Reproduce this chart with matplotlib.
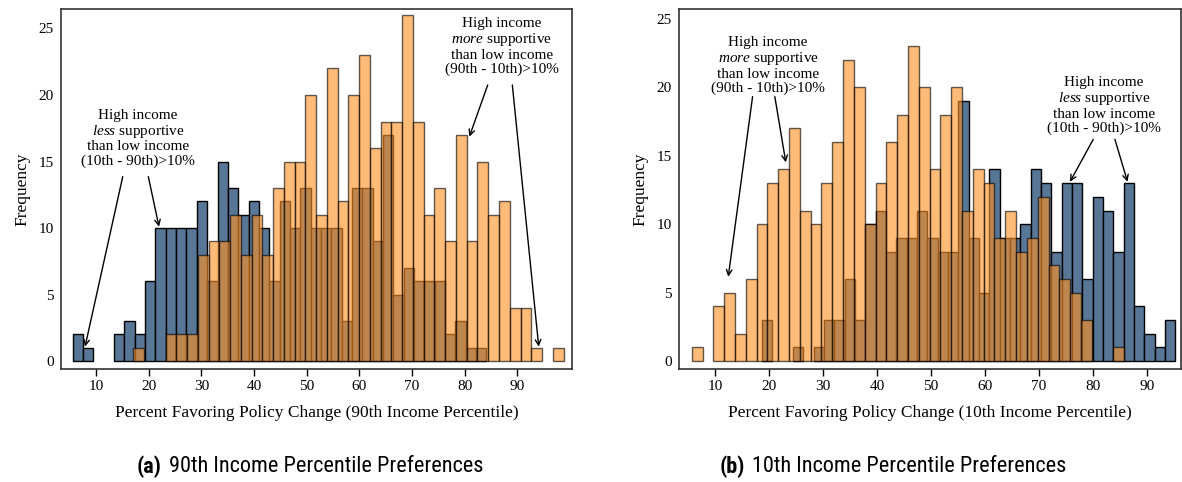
import numpy as np
import matplotlib.pyplot as plt

plt.rcParams['font.family'] = ['Liberation Serif', 'DejaVu Serif']
plt.rcParams['mathtext.fontset'] = 'custom'
plt.rcParams['mathtext.rm'] = 'Liberation Serif'
plt.rcParams['mathtext.it'] = 'Liberation Serif:italic'

# 40 equal-width bins per group; counts of policies per bin
# "less": high income less supportive than low income, "more": high income more supportive
left_less = [2, 1, 0, 0, 2, 3, 2, 6, 10, 10, 10, 10, 12, 6, 15, 13, 11, 12, 10, 6,
             12, 10, 13, 10, 10, 10, 3, 13, 13, 9, 17, 5, 7, 6, 6, 6, 2, 3, 1, 1]
left_more = [1, 0, 0, 2, 2, 2, 8, 9, 9, 11, 8, 11, 8, 13, 15, 15, 20, 11, 22, 12,
             20, 23, 16, 18, 18, 26, 18, 11, 13, 9, 17, 9, 15, 11, 12, 4, 4, 1, 0, 1]
right_less = [3, 0, 0, 1, 0, 1, 3, 3, 6, 3, 10, 11, 8, 9, 9, 11, 9, 8, 8, 19,
              9, 5, 14, 9, 9, 10, 14, 13, 8, 13, 13, 6, 12, 11, 8, 13, 4, 2, 1, 3]
right_more = [1, 0, 4, 5, 2, 6, 10, 13, 14, 17, 11, 10, 13, 16, 22, 20, 10, 13, 16, 18,
              23, 20, 14, 18, 20, 11, 14, 13, 9, 11, 8, 9, 12, 7, 6, 5, 3, 0, 0, 1]

# min / max of each group (bin range)
left_less_range = (5.57, 84.14)
left_more_range = (17.09, 98.78)
right_less_range = (18.73, 95.25)
right_more_range = (5.70, 85.76)

xticks = [10, 20, 30, 40, 50, 60, 70, 80, 90]
yticks = [0, 5, 10, 15, 20, 25]

BLUE = '#587797'
ORANGE = '#ff9125'


def draw_hist(ax, counts, rng, color, alpha):
    counts = np.asarray(counts)
    edges = np.linspace(rng[0], rng[1], len(counts) + 1)
    keep = counts > 0
    ax.bar(edges[:-1][keep], counts[keep], width=np.diff(edges)[keep], align='edge',
           color=color, alpha=alpha, edgecolor='black', linewidth=1.0)


def style_axes(ax, xlabel, ylim):
    ax.set_xlim(3.3, 100.45)
    ax.set_ylim(*ylim)
    ax.set_xticks(xticks)
    ax.set_yticks(yticks)
    ax.tick_params(axis='x', direction='out', length=5, width=1, pad=3, labelsize=11)
    ax.tick_params(axis='y', length=0, pad=5, labelsize=11)
    for s in ax.spines.values():
        s.set_color('#333333')
        s.set_linewidth(1.2)
    ax.set_xlabel(xlabel, fontsize=12.5, labelpad=8)
    ax.set_ylabel('Frequency', fontsize=12.5, labelpad=6)


def note(ax, xy, text, arrows):
    ax.text(xy[0], xy[1], text, ha='center', va='center', fontsize=11, linespacing=1.08)
    for start, end in arrows:
        ax.annotate('', xy=end, xytext=start,
                    arrowprops=dict(arrowstyle='->', lw=1.0, color='black',
                                    shrinkA=0, shrinkB=0))


less_txt = 'High income\n$\\mathit{less}$ supportive\nthan low income\n(10th - 90th)>10%'
more_txt = 'High income\n$\\mathit{more}$ supportive\nthan low income\n(90th - 10th)>10%'

fig = plt.figure(figsize=(11.82, 4.82), dpi=100)
ax1 = fig.add_axes([0.0514, 0.2338, 0.4328, 0.7469])
ax2 = fig.add_axes([0.5745, 0.2338, 0.4243, 0.7469])

draw_hist(ax1, left_less, left_less_range, BLUE, 1.0)
draw_hist(ax1, left_more, left_more_range, ORANGE, 0.62)
style_axes(ax1, 'Percent Favoring Policy Change (90th Income Percentile)', (-0.62, 26.44))
note(ax1, (17.98, 16.75), less_txt, [((15.07, 13.86), (7.91, 1.08)),
                                    ((19.93, 13.86), (21.96, 10.1))])
note(ax1, (87.04, 23.65), more_txt, [((84.38, 20.75), (80.9, 16.87)),
                                    ((89.06, 20.75), (94.07, 1.08))])

draw_hist(ax2, right_less, right_less_range, BLUE, 1.0)
draw_hist(ax2, right_more, right_more_range, ORANGE, 0.62)
style_axes(ax2, 'Percent Favoring Policy Change (10th Income Percentile)', (-0.6, 25.7))
ax2.set_xlim(3.35, 96.2)
note(ax2, (19.85, 21.6), more_txt, [((16.96, 19.32), (12.46, 6.16)),
                                   ((21.08, 19.32), (23.11, 14.52))])
note(ax2, (82.0, 18.67), less_txt, [((80.03, 16.2), (75.73, 13.1)),
                                   ((84.04, 16.2), (86.38, 13.1))])

# sub-figure captions
cap_font = ['Roboto Condensed', 'Liberation Sans Narrow', 'Liberation Sans', 'DejaVu Sans']
cap_y = 1 - 467 / 482
fig.text(162 / 1182, cap_y, '(a)', ha='right', va='center', fontsize=16,
         fontweight='bold', family=cap_font)
fig.text(169 / 1182, cap_y, '90th Income Percentile Preferences', ha='left',
         va='center', fontsize=16, family=cap_font)
fig.text(745 / 1182, cap_y, '(b)', ha='right', va='center', fontsize=16,
         fontweight='bold', family=cap_font)
fig.text(752 / 1182, cap_y, '10th Income Percentile Preferences', ha='left',
         va='center', fontsize=16, family=cap_font)

fig.savefig('out.png', dpi=100)
